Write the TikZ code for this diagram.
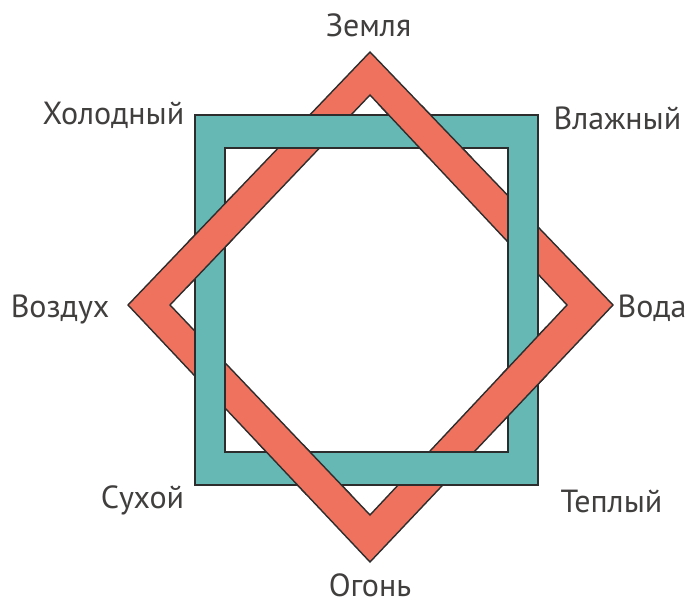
\documentclass[tikz,border=0pt]{standalone}
\usepackage{fontspec}
\setmainfont{PT Sans}
\definecolor{tealband}{RGB}{102,184,180}
\definecolor{redband}{RGB}{238,114,94}
\definecolor{edgecol}{RGB}{45,45,45}
\definecolor{textcol}{RGB}{65,62,62}
\tikzset{
  label/.style={anchor=base, inner sep=0pt, text=textcol, font=\fontsize{32}{36}\selectfont},
  sqband/.style={fill=tealband, draw=edgecol, line width=1.4pt, even odd rule},
  dmband/.style={fill=redband, draw=edgecol, line width=1.4pt, even odd rule}
}
\newcommand{\diamondpath}{(370,52) -- (613,305) -- (370,562) -- (128,305) -- cycle
  (370,95) -- (567,305) -- (370,515) -- (170,305) -- cycle}
\newcommand{\squarepath}{(195,115) rectangle (538,485) (225,148) rectangle (508,452)}
\begin{document}
\begin{tikzpicture}[x=1pt,y=-1pt]
\useasboundingbox (0,0) rectangle (688,604);
% red diamond band
\path[dmband] \diamondpath;
% teal square band (over everywhere first)
\path[sqband] \squarepath;
% red over teal at four crossings
\begin{scope}
  \clip (372,106) rectangle (485,157);
  \path[dmband] \diamondpath;
\end{scope}
\begin{scope}
  \clip (500,326) rectangle (547,428);
  \path[dmband] \diamondpath;
\end{scope}
\begin{scope}
  \clip (255,444) rectangle (352,494);
  \path[dmband] \diamondpath;
\end{scope}
\begin{scope}
  \clip (187,194) rectangle (233,290);
  \path[dmband] \diamondpath;
\end{scope}
% labels
\node[label] (zemlya) at (368.5,37) {Земля};
\node[label] (holod) at (113.5,125) {Холодный};
\node[label] (vlazh) at (617.5,130) {Влажный};
\node[label] (vozduh) at (60,317) {Воздух};
\node[label] (voda) at (652,317) {Вода};
\node[label] (suhoy) at (142.5,508) {Сухой};
\node[label] (tepl) at (611.5,512) {Теплый};
\node[label] (ogon) at (370,596) {Огонь};
\end{tikzpicture}
\end{document}
